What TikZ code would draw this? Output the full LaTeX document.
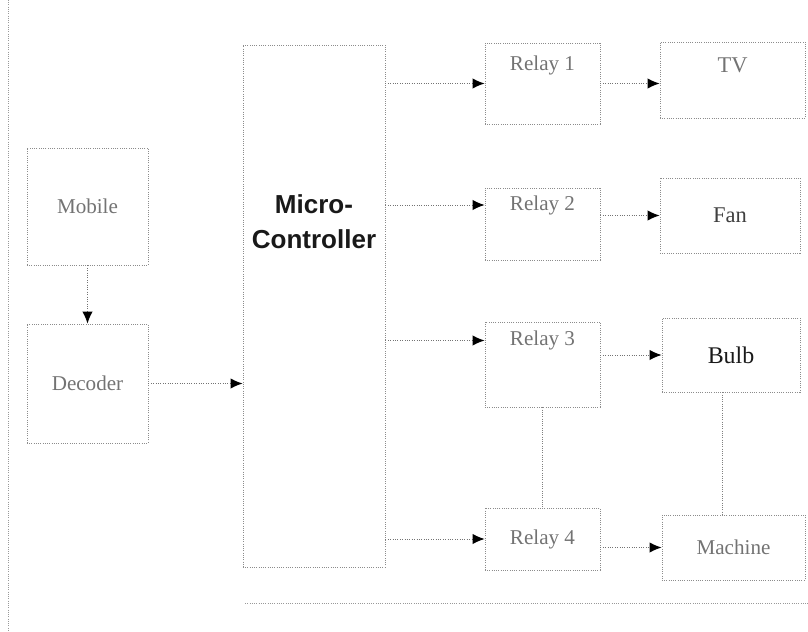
\documentclass[tikz,border=0pt]{standalone}
\usepackage{fontspec}
\setmainfont{Liberation Serif}
\newfontfamily\headfont{Liberation Sans}
\usepackage{xcolor}
\usetikzlibrary{arrows.meta, positioning}

\begin{document}
\begin{tikzpicture}[
    x=0.025cm, y=-0.025cm,
    box/.style={rectangle, draw=black!45, densely dotted, line width=0.6pt, align=center, text=black!55, font=\rmfamily\fontsize{15}{17}\selectfont},
    title/.style={align=center, text=black!90, font=\headfont\bfseries\fontsize{18.5}{25}\selectfont},
    arrow/.style={-{Latex[length=3mm,width=2.6mm,color=black]}, draw=black!55, densely dotted, line width=0.7pt},
    link/.style={draw=black!50, densely dotted, line width=0.6pt},
    frame/.style={draw=black!40, densely dotted, line width=0.6pt}
]
    \useasboundingbox (0,0) rectangle (808,631);
    \draw[frame] (8,0) -- (8,631);
    \draw[frame] (245,603) -- (808,603);

    \node[box, minimum width=3.025cm, minimum height=2.925cm] (mobile) at (87.5,206.5) {Mobile};
    \node[box, minimum width=3.025cm, minimum height=2.975cm] (decoder) at (87.5,383.5) {Decoder};
    \node[box, minimum width=3.55cm, minimum height=13.05cm] (micro) at (314,306) {};
    \node[title] (microtext) at (314,222) {Micro-\\Controller};

    \node[box, minimum width=2.875cm, minimum height=2.025cm,
          label={[name=r1l, yshift=0.45cm, text=black!55, font=\rmfamily\fontsize{15}{17}\selectfont]center:Relay 1}] (relay1) at (542.5,83.5) {};
    \node[box, minimum width=2.875cm, minimum height=1.8cm,
          label={[name=r2l, yshift=0.475cm, text=black!55, font=\rmfamily\fontsize{15}{17}\selectfont]center:Relay 2}] (relay2) at (542.5,224) {};
    \node[box, minimum width=2.875cm, minimum height=2.125cm,
          label={[name=r3l, yshift=0.6cm, text=black!55, font=\rmfamily\fontsize{15}{17}\selectfont]center:Relay 3}] (relay3) at (542.5,364.5) {};
    \node[box, minimum width=2.875cm, minimum height=1.55cm] (relay4) at (542.5,539) {Relay 4};

    \node[box, minimum width=3.625cm, minimum height=1.9cm,
          label={[name=tvl, yshift=0.375cm, text=black!55, font=\rmfamily\fontsize{16}{18}\selectfont]center:TV}] (tv) at (732.5,80) {};
    \node[box, minimum width=3.5cm, minimum height=1.875cm, font=\rmfamily\fontsize{16}{18}\selectfont, text=black!75] (fan) at (730,215.5) {Fan};
    \node[box, minimum width=3.45cm, minimum height=1.85cm, font=\rmfamily\fontsize{17}{19}\selectfont, text=black!90] (bulb) at (731,355) {Bulb};
    \node[box, minimum width=3.575cm, minimum height=1.625cm] (machine) at (733.5,547.5) {Machine};

    % inputs
    \draw[arrow] (mobile.south) -- (decoder.north);
    \draw[arrow] (decoder.east) -- (decoder.east -| micro.west);

    % controller to relays
    \draw[arrow] (relay1.west -| micro.east) -- (relay1.west);
    \draw[arrow] (micro.east |- r2l) -- (relay2.west |- r2l);
    \draw[arrow] (micro.east |- r3l) -- (relay3.west |- r3l);
    \draw[arrow] (relay4.west -| micro.east) -- (relay4.west);

    % relays to loads
    \draw[arrow] (relay1.east) -- (relay1.east -| tv.west);
    \draw[arrow] (relay2.east |- fan) -- (fan.west);
    \draw[arrow] (relay3.east |- bulb) -- (bulb.west);
    \draw[arrow] (relay4.east |- machine) -- (machine.west);

    \draw[link] (relay3.south) -- (relay4.north);
    \draw[link] ([xshift=-0.225cm]bulb.south) -- ([xshift=-0.225cm]bulb.south |- machine.north);
\end{tikzpicture}
\end{document}
